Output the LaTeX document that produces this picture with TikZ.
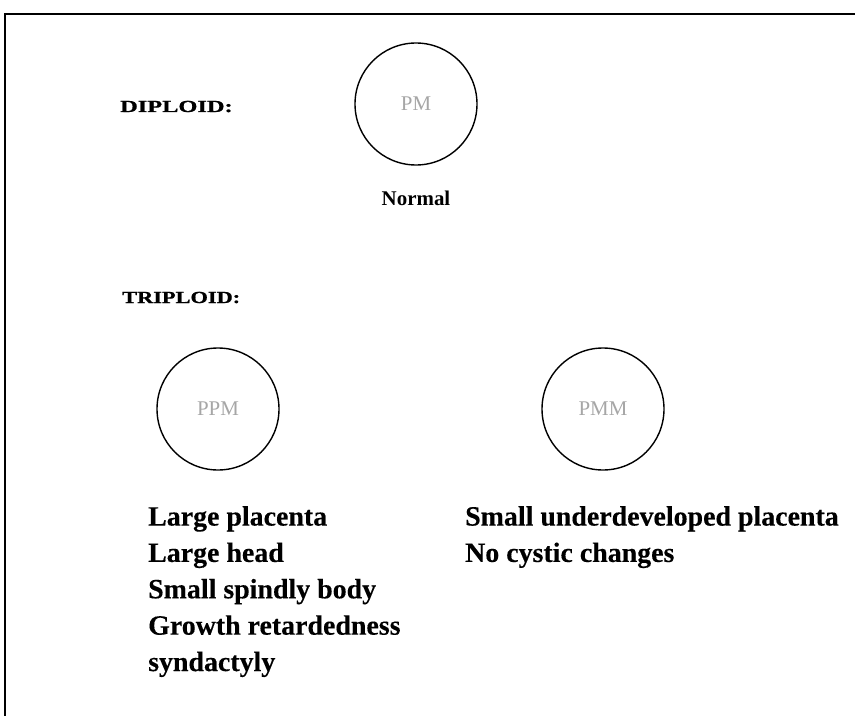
\documentclass[tikz,border=0pt]{standalone}
\usepackage{fontspec}
\setmainfont{Liberation Serif}
\newfontfamily\headfont[FakeStretch=1.32,FakeBold=1]{Liberation Serif Bold}
\newfontfamily\headfontd[FakeStretch=1.44,FakeBold=1]{Liberation Serif Bold}
\newfontfamily\bigfont[FakeBold=0.2]{Liberation Serif Bold}
\begin{document}
\begin{tikzpicture}[x=1bp,y=-1bp,
  cell/.style={circle,draw,line width=1.4bp,minimum size=122bp,inner sep=0pt,
    font=\fontsize{21}{21}\selectfont,text=black!35},
  head/.style={anchor=base west,inner sep=0pt,font=\headfont\fontsize{17}{17}\selectfont},
  lab/.style={anchor=base,inner sep=0pt,font=\bfseries\fontsize{21}{21}\selectfont},
  list/.style={anchor=north west,inner sep=0pt,align=left,
    font=\bigfont\fontsize{28}{36.5}\selectfont}]
\useasboundingbox (0,0) rectangle (855,716);
\coordinate (tr) at (855,14);
\coordinate (tl) at (5,14);
\coordinate (bl) at (5,716);
\draw[line width=1.4bp] (tr) -- (tl) -- (bl);
\node[head,font=\headfontd\fontsize{17}{17}\selectfont] (dip) at (120,112) {DIPLOID:};
\node[cell] (c1) at (416,104) {PM};
\node[lab] (norm) at (416,205) {Normal};
\node[head] (trip) at (122,303) {TRIPLOID:};
\node[cell] (c2) at (218,409) {PPM};
\node[cell] (c3) at (603,409) {PMM};
\node[list] (l1) at (148,506) {Large placenta\\Large head\\Small spindly body\\Growth retardedness\\syndactyly};
\node[list] (l2) at (465,506) {Small underdeveloped placenta\\No cystic changes};
\end{tikzpicture}
\end{document}
